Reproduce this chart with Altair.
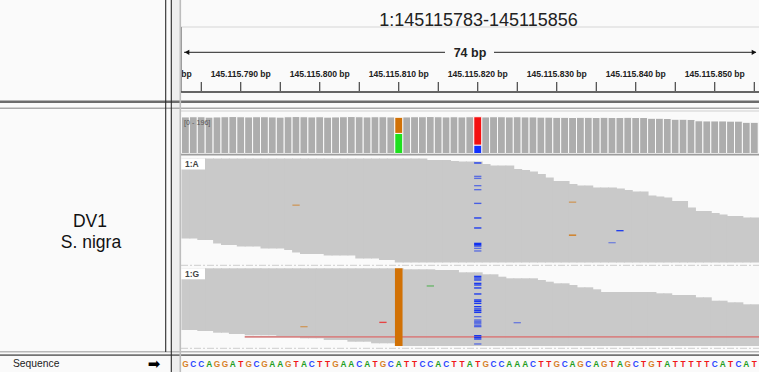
import altair as alt
import pandas as pd

# ---------------- data ----------------
REGION_START = 145115783
REGION_END = 145115856
sequence = list("GCCAGGATGCGAAGTACTTGAACATGCATTCCACTTATGCCAAACTTGCAGCAGTAGCTGTATTTTTCATCAT")
positions = [REGION_START + i for i in range(len(sequence))]

coverage = [191, 192, 192, 190, 191, 192, 193, 192, 191, 192,
            192, 191, 190, 192, 193, 192, 191, 192, 190, 191,
            192, 193, 192, 191, 192, 192, 191, 189, 191, 192,
            192, 193, 192, 191, 192, 191, 192, 192, 191, 192,
            192, 191, 192, 191, 191, 190, 190, 189, 189, 188,
            189, 189, 188, 189, 188, 188, 189, 188, 188, 184,
            184, 183, 179, 179, 178, 171, 170, 170, 170, 169,
            169, 163, 163]

snp_positions = [145115810, 145115820]
snp_lower_base = ["A", "C"]
snp_lower_count = [105, 44]
snp_upper_base = ["G", "T"]
snp_upper_count = [84, 148]

group_names = ["1:A", "1:G"]

readsA_top = [0, 0, 0, 0, 0, 0, 0, 0, 0, 0,
              0, 0, 0, 0, 0, 0, 0, 0, 0, 0,
              0, 0, 0, 0, 0, 0, 0, 0, 0, 0,
              0, 1.5, 1.5, 1.5, 2.5, 3, 3, 3, 5.5, 7,
              7, 7, 10.5, 11.5, 13, 15.5, 19, 22.5, 22.5, 25.5,
              27, 27, 29, 29, 29, 30, 31.5, 33, 33, 37,
              38, 39, 42.5, 42.5, 49, 52.5, 52.5, 54.5, 56, 57.5,
              57.5, 59, 59]
readsA_bottom = [80, 80, 81.5, 81.5, 85, 86.5, 86.5, 88, 88, 88,
                 90, 90, 90, 91.5, 94, 95.5, 95.5, 95.5, 97, 97,
                 97, 97, 100, 100, 100, 101.5, 101.5, 104, 104, 104,
                 104, 104, 104, 104, 104, 104, 104, 104, 104, 104,
                 104, 104, 104, 104, 104, 104, 104, 104, 104, 104,
                 104, 104, 104, 104, 104, 104, 104, 104, 104, 104,
                 104, 104, 104, 104, 104, 104, 104, 104, 104, 104,
                 104, 104, 104]
readsG_top = [0, 0, 0, 0, 0, 0, 0, 0, 0, 0,
              0, 0, 0, 0, 0, 0, 0, 0, 0, 0,
              0, 0, 0, 0, 0, 0, 0, 0, 1, 1,
              1, 1, 1.7, 1.7, 1.7, 4, 4, 4, 6, 6,
              8.4, 10, 10, 10, 10, 11.7, 13.4, 15, 15, 16.7,
              19, 19, 21, 23.7, 23.7, 23.7, 23.7, 23.7, 23.7, 23.7,
              25, 25, 26.7, 26.7, 26.7, 29, 29, 32.4, 32.4, 34,
              34, 36, 36]
readsG_bottom = [61.7, 61.7, 62.7, 62.7, 64.4, 64.4, 65.7, 65.7, 67, 67,
                 67, 67, 68.4, 68.4, 68.4, 70, 70, 70, 71.7, 71.7,
                 71.7, 73.4, 73.4, 73.4, 75, 75, 75, 77.7, 77.7, 77.7,
                 77.7, 77.7, 77.7, 77.7, 77.7, 77.7, 77.7, 77.7, 77.7, 77.7,
                 77.7, 77.7, 77.7, 77.7, 77.7, 77.7, 77.7, 77.7, 77.7, 77.7,
                 77.7, 77.7, 77.7, 77.7, 77.7, 77.7, 77.7, 77.7, 77.7, 77.7,
                 77.7, 77.7, 77.7, 77.7, 77.7, 77.7, 77.7, 77.7, 77.7, 77.7,
                 77.7, 77.7, 77.7]

# mismatches in group 1:A
mmA_pos = [145115797, 145115832, 145115832, 145115838, 145115837,
           145115820, 145115820, 145115820, 145115820, 145115820, 145115820, 145115820,
           145115820, 145115820, 145115820, 145115820, 145115820, 145115820]
mmA_row = [46, 43, 76, 71.5, 83.5,
           3.8, 17.2, 19.2, 26.5, 30.5, 44.2, 58.8,
           68.8, 84.2, 85.5, 86.8, 89.2, 91.8]
mmA_base = ["G", "G", "G", "C", "C",
            "C", "C", "C", "C", "C", "C", "C",
            "C", "C", "C", "C", "C", "C"]
mmA_alpha = [0.55, 0.55, 0.9, 0.9, 0.45,
             0.95, 0.6, 0.6, 0.6, 0.6, 0.7, 0.95,
             0.95, 1.0, 1.0, 0.95, 0.6, 0.6]

# mismatches in group 1:G
mmG_pos = [145115798, 145115808, 145115814, 145115825,
           145115820, 145115820, 145115820, 145115820, 145115820, 145115820, 145115820,
           145115820, 145115820, 145115820, 145115820, 145115820, 145115820, 145115820,
           145115820, 145115820, 145115820, 145115820, 145115820, 145115820, 145115820,
           145115820, 145115820, 145115820, 145115820]
mmG_row = [57.7, 53.4, 17, 53.7,
           7.4, 9, 11, 14.4, 16, 19, 25,
           31, 32.4, 34.4, 37.7, 40, 41.7, 43.4,
           47.7, 51, 52.4, 53.7, 55, 56.7, 57.7,
           66.7, 68.4, 70, 75]
mmG_base = ["G", "T", "A", "C",
            "C", "C", "C", "C", "C", "C", "C",
            "C", "C", "C", "C", "C", "C", "C",
            "C", "C", "C", "C", "C", "C", "C",
            "C", "C", "C", "C"]
mmG_alpha = [0.55, 0.8, 0.6, 0.5,
             0.95, 0.95, 0.95, 0.95, 0.95, 0.95, 0.95,
             0.95, 0.95, 0.95, 0.95, 0.95, 0.95, 0.95,
             0.6, 0.6, 0.6, 0.6, 0.6, 0.6, 0.6,
             0.95, 0.95, 0.95, 0.6]

groupG_alt_pos = 145115810
flagged_read_start = 145115791
flagged_read_end = 145115856
flagged_read_row = 67.6

ruler_ticks = [145115785, 145115790, 145115795, 145115800, 145115805,
               145115810, 145115815, 145115820, 145115825, 145115830,
               145115835, 145115840, 145115845, 145115850, 145115855]
ruler_label_pos = [145115780, 145115790, 145115800, 145115810,
                   145115820, 145115830, 145115840, 145115850]
ruler_labels = ["145.115.780 bp", "145.115.790 bp", "145.115.800 bp", "145.115.810 bp",
                "145.115.820 bp", "145.115.830 bp", "145.115.840 bp", "145.115.850 bp"]

sample_lines = ["DV1", "S. nigra"]

# ---------------- styling ----------------
FONT = "Liberation Sans"
BG = "#fafafa"
COV_COL = {"A": "#1ee01e", "C": "#1030ff", "G": "#d17105", "T": "#f41010"}
SEQ_COL = {"A": "#1f9e1f", "C": "#2a45ff", "G": "#d8812a", "T": "#f01818"}
MM_COL = {"A": "#2aa82a", "C": "#1030f0", "G": "#d17105", "T": "#ee2222"}

X_LO = REGION_START - 0.5
X_HI = REGION_START - 0.5 + 577.5 / 7.9


def XS():
    return alt.Scale(domain=[X_LO, X_HI], range=[181.5, 759], nice=False, zero=False)


YCOV = alt.Scale(domain=[0, 196], range=[153.5, 116], nice=False, zero=False)
YA = alt.Scale(domain=[0, 104.5], range=[158.5, 263], nice=False, zero=False)
YG = alt.Scale(domain=[0, 78], range=[268.3, 346.3], nice=False, zero=False)

ONE = pd.DataFrame({"k": [0]})


def hrule(y, x1, x2, color, width, dash=None):
    kw = dict(color=color, strokeWidth=width)
    if dash:
        kw["strokeDash"] = dash
    return alt.Chart(ONE).mark_rule(**kw).encode(
        x=alt.value(x1), x2=alt.value(x2), y=alt.value(y))


def vrule(x, y1, y2, color, width):
    return alt.Chart(ONE).mark_rule(color=color, strokeWidth=width).encode(
        x=alt.value(x), y=alt.value(y1), y2=alt.value(y2))


def box(x1, x2, y1, y2, color):
    return alt.Chart(ONE).mark_rect(color=color).encode(
        x=alt.value(x1), x2=alt.value(x2), y=alt.value(y1), y2=alt.value(y2))


def label(txt, x, y, size, weight="normal", color="#222", align="left", font=FONT):
    return alt.Chart(ONE).mark_text(
        text=txt, fontSize=size, fontWeight=weight, color=color, align=align,
        baseline="alphabetic", font=font).encode(x=alt.value(x), y=alt.value(y))


layers = []

# ---------------- ruler ----------------
lab_df = pd.DataFrame({"pos": ruler_label_pos, "label": ruler_labels})
layers.append(alt.Chart(lab_df).mark_text(
    fontSize=8.6, fontWeight="bold", font=FONT, color="#222", baseline="alphabetic"
).encode(x=alt.X("pos:Q", scale=XS(), axis=None), y=alt.value(77), text="label:N"))

tick_df = pd.DataFrame({"pos": ruler_ticks})
layers.append(alt.Chart(tick_df).mark_rule(color="#222", strokeWidth=1).encode(
    x=alt.X("pos:Q", scale=XS(), axis=None), y=alt.value(82), y2=alt.value(91)))

layers.append(hrule(52.3, 184, 445, "#222", 1))
layers.append(hrule(52.3, 494, 756, "#222", 1))
layers.append(alt.Chart(ONE).mark_point(shape="triangle-left", filled=True, size=28,
                                        color="#111", opacity=1).encode(
    x=alt.value(187), y=alt.value(52.3)))
layers.append(alt.Chart(ONE).mark_point(shape="triangle-right", filled=True, size=28,
                                        color="#111", opacity=1).encode(
    x=alt.value(754), y=alt.value(52.3)))
layers.append(label(f"{REGION_END - REGION_START + 1} bp", 470, 57, 12.5, "bold", "#222", "center"))
layers.append(label(f"1:{REGION_START}-{REGION_END}", 478.5, 26, 18, "normal", "#222", "center"))

# ---------------- coverage ----------------
cov_df = pd.DataFrame({"pos": positions, "depth": coverage})
layers.append(alt.Chart(cov_df).mark_rect(color="#adadad", stroke="#ffffff", strokeWidth=0.9)
              .transform_calculate(x1="datum.pos - 0.5", x2="datum.pos + 0.5")
              .encode(x=alt.X("x1:Q", scale=XS(), axis=None), x2="x2:Q",
                      y=alt.Y("depth:Q", scale=YCOV, axis=None), y2=alt.datum(0)))

snp_rows = []
for p, lb, lc, ub, uc in zip(snp_positions, snp_lower_base, snp_lower_count,
                             snp_upper_base, snp_upper_count):
    snp_rows.append({"pos": p, "lo": 0, "hi": lc, "col": COV_COL[lb]})
    snp_rows.append({"pos": p, "lo": lc, "hi": lc + uc, "col": COV_COL[ub]})
snp_df = pd.DataFrame(snp_rows)
layers.append(alt.Chart(snp_df).mark_rect(stroke="#ffffff", strokeWidth=0.9)
              .transform_calculate(x1="datum.pos - 0.5", x2="datum.pos + 0.5")
              .encode(x=alt.X("x1:Q", scale=XS(), axis=None), x2="x2:Q",
                      y=alt.Y("hi:Q", scale=YCOV, axis=None), y2="lo:Q",
                      color=alt.Color("col:N", scale=None)))
layers.append(label("[0 - 196]", 184, 124.5, 7.2, "normal", "#555"))

# ---------------- reads ----------------
READ_GRAY = "#c9c9c9"
for top, bot, ysc in [(readsA_top, readsA_bottom, YA), (readsG_top, readsG_bottom, YG)]:
    rdf = pd.DataFrame({"pos": positions, "top": top, "bot": bot})
    layers.append(alt.Chart(rdf).mark_rect(color=READ_GRAY)
                  .transform_calculate(x1="datum.pos - 0.5", x2="datum.pos + 0.62")
                  .encode(x=alt.X("x1:Q", scale=XS(), axis=None), x2="x2:Q",
                          y=alt.Y("top:Q", scale=ysc, axis=None), y2="bot:Q"))

# flagged read (red) in group 1:G
fr_df = pd.DataFrame({"s": [flagged_read_start], "e": [flagged_read_end], "row": [flagged_read_row]})
layers.append(alt.Chart(fr_df).mark_rect(color="#d68484")
              .transform_calculate(x1="datum.s - 0.5", x2="datum.e + 0.5", r2="datum.row + 1.8")
              .encode(x=alt.X("x1:Q", scale=XS(), axis=None), x2="x2:Q",
                      y=alt.Y("row:Q", scale=YG, axis=None), y2="r2:Q"))

# G allele column in group 1:G
gi = positions.index(groupG_alt_pos)
gcol_df = pd.DataFrame({"pos": [groupG_alt_pos], "top": [readsG_top[gi]], "bot": [readsG_bottom[gi]]})
layers.append(alt.Chart(gcol_df).mark_rect(color=MM_COL["G"])
              .transform_calculate(x1="datum.pos - 0.48", x2="datum.pos + 0.48")
              .encode(x=alt.X("x1:Q", scale=XS(), axis=None), x2="x2:Q",
                      y=alt.Y("top:Q", scale=YG, axis=None), y2="bot:Q"))

for mp, mr, mb, ma, ysc in [(mmA_pos, mmA_row, mmA_base, mmA_alpha, YA),
                            (mmG_pos, mmG_row, mmG_base, mmG_alpha, YG)]:
    mdf = pd.DataFrame({"pos": mp, "row": mr, "col": [MM_COL[b] for b in mb], "alpha": ma})
    layers.append(alt.Chart(mdf).mark_rect()
                  .transform_calculate(x1="datum.pos - 0.46", x2="datum.pos + 0.46",
                                       r2="datum.row + 1.35")
                  .encode(x=alt.X("x1:Q", scale=XS(), axis=None), x2="x2:Q",
                          y=alt.Y("row:Q", scale=ysc, axis=None), y2="r2:Q",
                          color=alt.Color("col:N", scale=None),
                          opacity=alt.Opacity("alpha:Q", scale=None)))

# group labels
layers.append(box(181, 205, 158.5, 169.5, "#ffffff"))
layers.append(box(181, 205, 268.3, 279.3, "#ffffff"))
layers.append(label(group_names[0], 185, 167.3, 8.5, "bold", "#444"))
layers.append(label(group_names[1], 185, 277, 8.5, "bold", "#444"))

# ---------------- sequence ----------------
seq_df = pd.DataFrame({"pos": positions, "base": sequence, "col": [SEQ_COL[b] for b in sequence]})
layers.append(alt.Chart(seq_df).mark_text(fontSize=8.3, fontWeight="bold", font=FONT,
                                          baseline="alphabetic")
              .encode(x=alt.X("pos:Q", scale=XS(), axis=None), y=alt.value(366.8),
                      text="base:N", color=alt.Color("col:N", scale=None)))

# ---------------- frame ----------------
layers.append(box(0, 171, 0, 372, BG))
layers.append(box(171, 180, 0, 372, "#efefef"))
layers.append(hrule(27, 181, 759, "#d6d6d6", 1))
layers.append(vrule(181.5, 27, 92, "#9a9a9a", 1))
layers.append(hrule(92, 181, 759, "#333", 1.6))
layers.append(hrule(101.8, 0, 759, "#6c6c6c", 2.6))
layers.append(hrule(108.3, 0, 759, "#a9a9a9", 1.6))
layers.append(hrule(111, 181, 759, "#cfcfcf", 1))
layers.append(hrule(154.6, 181, 759, "#9c9c9c", 1.6))
layers.append(hrule(265.3, 181, 759, "#cdcdcd", 1, [7, 2, 2, 2]))
layers.append(hrule(348.3, 181, 759, "#cdcdcd", 1, [7, 2, 2, 2]))
layers.append(hrule(351.8, 0, 759, "#b8b8b8", 1.4))
layers.append(hrule(355.2, 0, 759, "#737373", 1.8))
layers.append(vrule(165.7, 0, 352, "#2a2a2a", 1.1))
layers.append(vrule(171.3, 0, 372, "#2a2a2a", 1.1))
layers.append(vrule(180.3, 0, 372, "#bdbdbd", 1.6))

# ---------------- left panel text ----------------
layers.append(label(sample_lines[0], 90, 226.6, 17.5, "normal", "#111", "center"))
layers.append(label(sample_lines[1], 91, 248.3, 17.5, "normal", "#111", "center"))
layers.append(label("Sequence", 13, 367.3, 10.3, "normal", "#222"))
layers.append(label("\u27A1", 154, 368.5, 15, "normal", "#000", "center", "DejaVu Sans"))

chart = (alt.layer(*layers)
         .resolve_scale(x="independent", y="independent")
         .properties(width=759, height=372, padding=0, autosize="none", background=BG)
         .configure_view(stroke=None))

chart.save("out.html", embed_options={"renderer": "svg", "actions": False})
